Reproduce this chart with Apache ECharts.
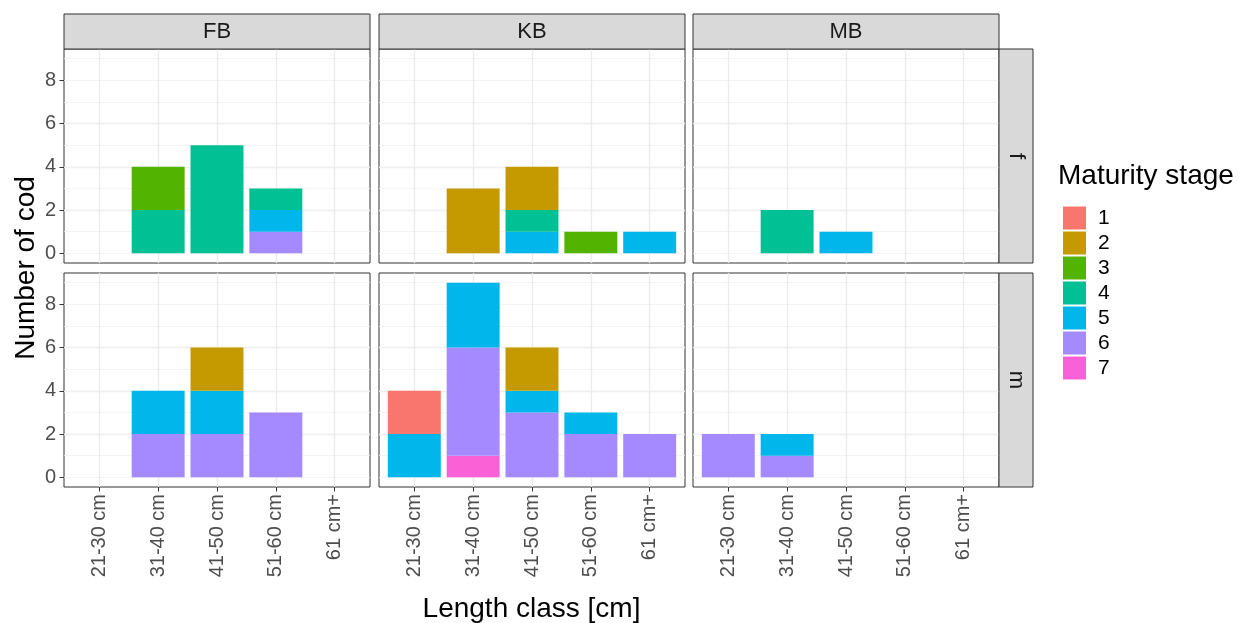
<!DOCTYPE html>
<html>
<head>
<meta charset="utf-8">
<script src="https://cdn.jsdelivr.net/npm/echarts@6/dist/echarts.min.js"></script>
<style>
html,body{margin:0;padding:0;background:#fff;}
#chart{width:1250px;height:623px;}
</style>
</head>
<body>
<div id="chart"></div>
<script>
// ---------- data ----------
const categories = ['21-30 cm', '31-40 cm', '41-50 cm', '51-60 cm', '61 cm+'];
const sites = ['FB', 'KB', 'MB'];
const sexes = ['f', 'm'];
const stages = ['1', '2', '3', '4', '5', '6', '7'];
const stageColors = ['#F8766D', '#C49A00', '#53B400', '#00C094', '#00B6EB', '#A58AFF', '#FB61D7'];
const yTicks = [0, 2, 4, 6, 8];

// rows = maturity stage 1..7, columns = length class
const countsFBf = [
  [0, 0, 0, 0, 0],
  [0, 0, 0, 0, 0],
  [0, 2, 0, 0, 0],
  [0, 2, 5, 1, 0],
  [0, 0, 0, 1, 0],
  [0, 0, 0, 1, 0],
  [0, 0, 0, 0, 0]
];
const countsKBf = [
  [0, 0, 0, 0, 0],
  [0, 3, 2, 0, 0],
  [0, 0, 0, 1, 0],
  [0, 0, 1, 0, 0],
  [0, 0, 1, 0, 1],
  [0, 0, 0, 0, 0],
  [0, 0, 0, 0, 0]
];
const countsMBf = [
  [0, 0, 0, 0, 0],
  [0, 0, 0, 0, 0],
  [0, 0, 0, 0, 0],
  [0, 2, 0, 0, 0],
  [0, 0, 1, 0, 0],
  [0, 0, 0, 0, 0],
  [0, 0, 0, 0, 0]
];
const countsFBm = [
  [0, 0, 0, 0, 0],
  [0, 0, 2, 0, 0],
  [0, 0, 0, 0, 0],
  [0, 0, 0, 0, 0],
  [0, 2, 2, 0, 0],
  [0, 2, 2, 3, 0],
  [0, 0, 0, 0, 0]
];
const countsKBm = [
  [2, 0, 0, 0, 0],
  [0, 0, 2, 0, 0],
  [0, 0, 0, 0, 0],
  [0, 0, 0, 0, 0],
  [2, 3, 1, 1, 0],
  [0, 5, 3, 2, 2],
  [0, 1, 0, 0, 0]
];
const countsMBm = [
  [0, 0, 0, 0, 0],
  [0, 0, 0, 0, 0],
  [0, 0, 0, 0, 0],
  [0, 0, 0, 0, 0],
  [0, 1, 0, 0, 0],
  [2, 1, 0, 0, 0],
  [0, 0, 0, 0, 0]
];
const panelCounts = {
  f: { FB: countsFBf, KB: countsKBf, MB: countsMBf },
  m: { FB: countsFBm, KB: countsKBm, MB: countsMBm }
};

// ---------- layout ----------
const colLeft = [64, 379, 693];
const panelW = 306;
const rowTop = [49, 273];
const panelH = 214;
const xExpand = 0.6;                       // ggplot discrete expansion
const nCat = categories.length;
const unit = panelW / (nCat - 1 + 2 * xExpand);
const yMin = -0.45, yMax = 9.45;
const FONT = '"Liberation Sans", Arial, sans-serif';

const grids = [], xAxes = [], yAxes = [], series = [], graphics = [];

sexes.forEach((sex, r) => {
  sites.forEach((site, c) => {
    const isBottom = r === sexes.length - 1;
    const isLeft = c === 0;

    // outer panel: border, grid lines, y axis
    const og = grids.length;
    grids.push({
      left: colLeft[c], top: rowTop[r], width: panelW, height: panelH,
      show: true, backgroundColor: '#fff', borderColor: '#333333', borderWidth: 1
    });
    xAxes.push({
      type: 'value', gridIndex: og, min: -xExpand, max: nCat - 1 + xExpand,
      minInterval: 1, maxInterval: 1, splitNumber: 5,
      axisLine: { show: false, onZero: false }, axisTick: { show: false }, axisLabel: { show: false },
      splitLine: { show: true, showMinLine: false, showMaxLine: false, lineStyle: { color: '#ebebeb', width: 1.3 } }
    });
    yAxes.push({
      type: 'value', gridIndex: og, min: yMin, max: yMax,
      minInterval: 2, maxInterval: 2, splitNumber: 5,
      axisLine: { show: false, onZero: false },
      axisTick: { show: isLeft, length: 4.5, lineStyle: { color: '#333333', width: 1 }, customValues: yTicks },
      axisLabel: {
        show: isLeft, margin: 8, fontSize: 20, color: '#4d4d4d', fontFamily: FONT,
        customValues: yTicks,
        formatter: v => String(v)
      },
      splitLine: { show: true, showMinLine: false, showMaxLine: false, lineStyle: { color: '#ebebeb', width: 1.3 } }
    });
    yAxes.push({
      type: 'value', gridIndex: og, min: yMin, max: yMax, position: 'left',
      minInterval: 1, maxInterval: 1, splitNumber: 10,
      axisLine: { show: false, onZero: false }, axisTick: { show: false }, axisLabel: { show: false },
      splitLine: { show: true, showMinLine: false, showMaxLine: false, lineStyle: { color: '#f0f0f0', width: 0.8 } }
    });

    // inner plotting area for the category bars (without ggplot's extra expansion)
    const ig = grids.length;
    grids.push({
      left: colLeft[c] + unit * (xExpand - 0.5), top: rowTop[r],
      width: unit * nCat, height: panelH, show: false
    });
    const ix = xAxes.length;
    xAxes.push({
      type: 'category', gridIndex: ig, data: categories, boundaryGap: true,
      axisLine: { show: false, onZero: false },
      axisTick: { show: isBottom, alignWithLabel: true, length: 4.5, lineStyle: { color: '#333333', width: 1 } },
      axisLabel: { show: isBottom, interval: 0, rotate: 90, margin: 7, fontSize: 20, color: '#4d4d4d', fontFamily: FONT },
      splitLine: { show: false }
    });
    const iy = yAxes.length;
    yAxes.push({
      type: 'value', gridIndex: ig, min: yMin, max: yMax, show: false,
      axisLine: { onZero: false }, splitLine: { show: false }
    });

    const counts = panelCounts[sex][site];
    // ggplot stacks the highest stage at the bottom
    for (let s = stages.length - 1; s >= 0; s--) {
      series.push({
        type: 'bar', name: stages[s], xAxisIndex: ix, yAxisIndex: iy,
        stack: 'p' + ig, barWidth: '90%', data: counts[s].slice(),
        itemStyle: { color: stageColors[s] },
        emphasis: { disabled: true }, silent: true
      });
    }
  });
});

// facet strips (top)
sites.forEach((site, c) => {
  graphics.push({
    type: 'rect', shape: { x: colLeft[c], y: 14, width: panelW, height: rowTop[0] - 14 },
    style: { fill: '#d9d9d9', stroke: '#333333', lineWidth: 1 }, z: 10
  });
  graphics.push({
    type: 'text', x: colLeft[c] + panelW / 2, y: (14 + rowTop[0]) / 2,
    style: { text: site, fill: '#1a1a1a', font: '22px ' + FONT, align: 'center', verticalAlign: 'middle' }, z: 11
  });
});
// facet strips (right)
const stripX = colLeft[2] + panelW;
const stripW = 34;
sexes.forEach((sex, r) => {
  graphics.push({
    type: 'rect', shape: { x: stripX, y: rowTop[r], width: stripW, height: panelH },
    style: { fill: '#d9d9d9', stroke: '#333333', lineWidth: 1 }, z: 10
  });
  graphics.push({
    type: 'text', x: stripX + stripW / 2, y: rowTop[r] + panelH / 2, rotation: -Math.PI / 2,
    style: { text: sex, fill: '#1a1a1a', font: '22px ' + FONT, align: 'center', verticalAlign: 'middle' }, z: 11
  });
});
// axis titles
graphics.push({
  type: 'text', x: (colLeft[0] + colLeft[2] + panelW) / 2, y: 609,
  style: { text: 'Length class [cm]', fill: '#000', font: '28px ' + FONT, align: 'center', verticalAlign: 'middle' }
});
graphics.push({
  type: 'text', x: 26, y: (rowTop[0] + rowTop[1] + panelH) / 2, rotation: Math.PI / 2,
  style: { text: 'Number of cod', fill: '#000', font: '28px ' + FONT, align: 'center', verticalAlign: 'middle' }
});
graphics.push({
  type: 'text', x: 1058, y: 176,
  style: { text: 'Maturity stage', fill: '#000', font: '28px ' + FONT, align: 'left', verticalAlign: 'middle' }
});

const option = {
  animation: false,
  backgroundColor: '#fff',
  grid: grids,
  xAxis: xAxes,
  yAxis: yAxes,
  series: series,
  legend: {
    data: stages, orient: 'vertical', left: 1058, top: 201.5,
    icon: 'rect', itemWidth: 23, itemHeight: 23, itemGap: 2,
    selectedMode: false,
    textStyle: { fontSize: 21, color: '#000', fontFamily: FONT, padding: [0, 0, 0, 7] }
  },
  graphic: graphics
};

const chart = echarts.init(document.getElementById('chart'), null, { renderer: 'canvas' });
chart.setOption(option);
</script>
</body>
</html>
